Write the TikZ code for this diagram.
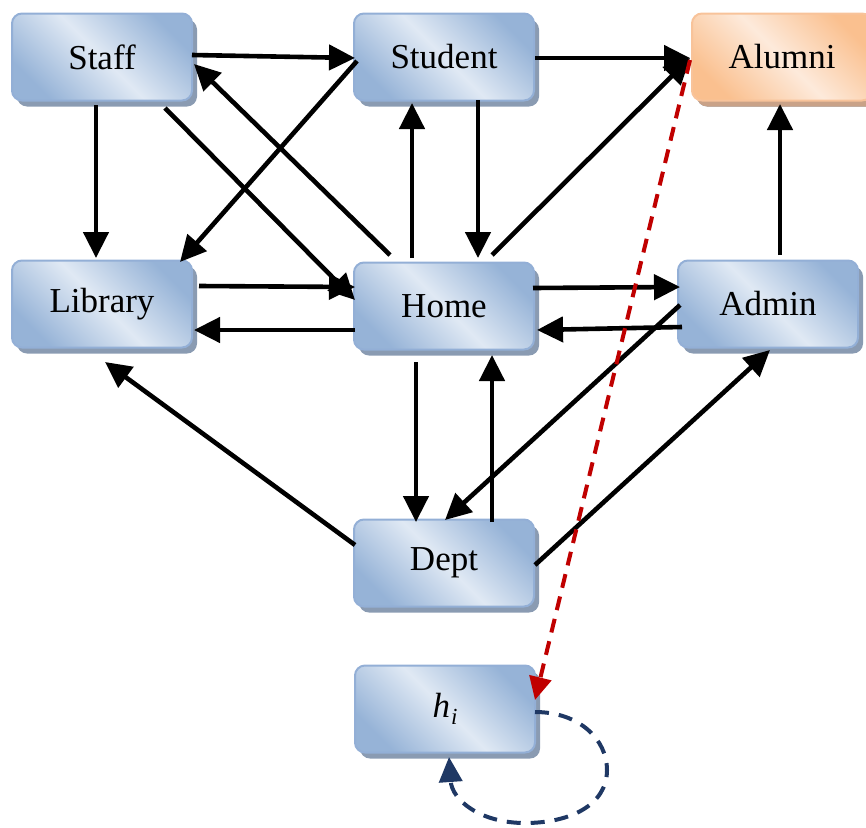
\documentclass[tikz,border=0pt]{standalone}
\usepackage{fontspec}
\setmainfont{Liberation Serif}
\usetikzlibrary{arrows.meta,shadows,calc}
\definecolor{bdark}{HTML}{96B3D7}
\definecolor{blight}{HTML}{E0E9F4}
\definecolor{bborder}{HTML}{93AFD6}
\definecolor{bshadow}{HTML}{8A9BB2}
\definecolor{odark}{HTML}{FAC08F}
\definecolor{olight}{HTML}{FDEADB}
\definecolor{oborder}{HTML}{F8C39A}
\definecolor{oshadow}{HTML}{C9A288}
\definecolor{redarr}{HTML}{C00000}
\definecolor{loopblue}{HTML}{1F3864}
\begin{document}
\begin{tikzpicture}[x=1pt,y=-1pt,
  box/.style={rectangle, rounded corners=10pt, minimum width=180pt, minimum height=87pt,
    draw=bborder, line width=2pt, top color=bdark, bottom color=bdark, middle color=blight,
    shading angle=-45, general shadow={fill=bshadow, shadow xshift=5pt, shadow yshift=-6pt},
    font=\fontsize{35}{42}\selectfont, inner sep=0pt},
  obox/.style={box, draw=oborder, top color=odark, bottom color=odark, middle color=olight,
    shading angle=-45, general shadow={fill=oshadow, shadow xshift=5pt, shadow yshift=-6pt}},
  arr/.style={line width=4.6pt, -{Triangle[length=26pt,width=25pt]}},
  redline/.style={redarr, line width=4pt, dash pattern=on 14pt off 9pt, -{Triangle[length=23pt,width=22pt]}},
  loopline/.style={loopblue, line width=4pt, dash pattern=on 14pt off 10pt, -{Triangle[length=25pt,width=23pt]}}
]
\useasboundingbox (0,0) rectangle (866,827);

\node[box] (staff) at (102,57) {Staff};
\node[box] (student) at (444,57) {Student};
\node[obox] (alumni) at (782,57) {Alumni};
\node[box] (library) at (102,304) {Library};
\node[box] (home) at (444,306) {Home};
\node[box] (admin) at (768,304) {Admin};
\node[box] (dept) at (444,563) {Dept};
\node[box] (hi) at (445,709) {\itshape h\kern1pt\raisebox{-7pt}{\fontsize{23}{23}\selectfont\itshape i}};

% edges
\draw[arr] ($(staff)+(90,-2)$) -- ($(student)+(-89,1)$);
\draw[arr] ($(student)+(91,1)$) -- ($(alumni)+(-92,1)$);
\draw[arr] ($(staff)+(-6,48)$) -- ($(library)+(-6,-46)$);
\draw[arr] ($(staff)+(63,51)$) -- ($(home)+(-89,-6)$);
\draw[arr] ($(home)+(-54,-51)$) -- ($(staff)+(92,7)$);
\draw[arr] ($(student)+(-87,4)$) -- ($(library)+(78,-42)$);
\draw[arr] ($(home)+(-32,-48)$) -- ($(student)+(-32,46)$);
\draw[arr] ($(student)+(34,43)$) -- ($(home)+(34,-48)$);
\draw[arr] ($(home)+(48,-51)$) -- ($(alumni)+(-92,1)$);
\draw[arr] ($(library)+(97,-18)$) -- ($(home)+(-89,-19)$);
\draw[arr] ($(home)+(-89,24)$) -- ($(library)+(92,26)$);
\draw[arr] ($(home)+(89,-18)$) -- ($(admin)+(-88,-17)$);
\draw[arr] ($(admin)+(-86,23)$) -- ($(home)+(93,24)$);
\draw[arr] ($(admin)+(12,-49)$) -- ($(alumni)+(-2,47)$);
\draw[arr] ($(home)+(-28,56)$) -- ($(dept)+(-28,-41)$);
\draw[arr] ($(dept)+(48,-41)$) -- ($(home)+(48,49)$);
\draw[arr] ($(admin)+(-88,1)$) -- ($(dept)+(1,-43)$);
\draw[arr] ($(dept)+(-89,-18)$) -- ($(library)+(3,58)$);
\draw[arr] ($(dept)+(91,2)$) -- ($(admin)+(2,46)$);

\draw[redline] ($(alumni)+(-92,3)$) -- ($(hi)+(90,-9)$);

\coordinate (ls) at ($(hi)+(90,3)$);
\coordinate (le) at ($(hi)+(4,48)$);
\draw[loopline] (ls) .. controls ($(ls)+(45,0)$) and (607,740) .. (607,770)
  .. controls (607,805) and (570,823) .. (525,823)
  .. controls (480,823) and (452,800) .. (le);
\end{tikzpicture}
\end{document}
